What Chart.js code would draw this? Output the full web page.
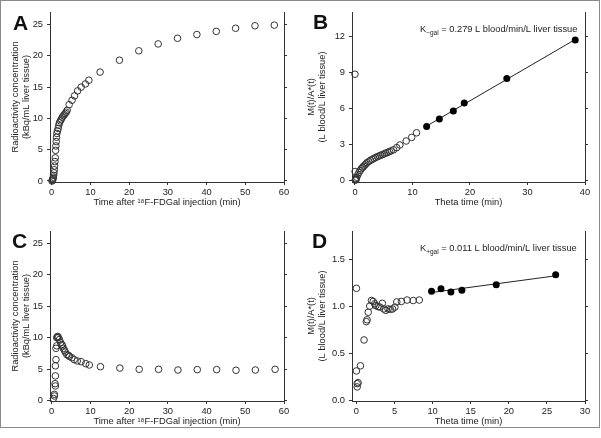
<!DOCTYPE html>
<html>
<head>
<meta charset="utf-8">
<script src="https://cdn.jsdelivr.net/npm/chart.js@4"></script>
<style>
body { margin: 0; background: #fff; }
#fig { position: relative; width: 601px; height: 438px; }
#frame { position: absolute; left: 0; top: 0; width: 598px; height: 426px; border: 1px solid #8a8a8a; }
canvas { position: absolute; }
</style>
</head>
<body>
<div id="fig">
  <div id="frame"></div>
  <canvas id="panelA" width="300" height="214" style="left:0;top:0"></canvas>
  <canvas id="panelB" width="299" height="214" style="left:300px;top:0"></canvas>
  <canvas id="panelC" width="300" height="214" style="left:0;top:219px"></canvas>
  <canvas id="panelD" width="299" height="214" style="left:300px;top:219px"></canvas>
</div>
<script>
"use strict";
// A: liver tissue curve, no galactose
const timeA = [0.08, 0.17, 0.25, 0.33, 0.42, 0.5, 0.58, 0.67, 0.75, 0.83, 0.92, 1.0, 1.08, 1.17, 1.25, 1.33, 1.5, 1.67, 1.83, 2.0, 2.25, 2.5, 2.75, 3.0, 3.25, 3.5, 3.75, 4.0, 4.5, 5.25, 5.9, 6.7, 7.6, 8.7, 9.6, 12.5, 17.5, 22.5, 27.5, 32.5, 37.5, 42.5, 47.5, 52.5, 57.5];
const concA = [0.0, 0.1, 0.2, 0.4, 0.6, 0.9, 1.3, 1.8, 2.4, 3.1, 3.7, 4.9, 5.6, 6.3, 7.0, 7.6, 8.0, 8.4, 8.9, 9.3, 9.6, 9.9, 10.2, 10.4, 10.6, 10.8, 11.0, 11.3, 12.2, 12.9, 13.6, 14.4, 15.0, 15.5, 16.1, 17.4, 19.3, 20.8, 21.9, 22.8, 23.4, 23.9, 24.4, 24.8, 24.9];

// C: liver tissue curve, galactose infusion
const timeC = [0.43, 0.69, 0.69, 0.86, 0.95, 0.95, 0.95, 1.1, 1.1, 1.3, 1.3, 1.46, 1.55, 1.7, 2.0, 2.3, 2.6, 2.8, 3.0, 3.3, 3.5, 3.9, 4.3, 4.6, 5.2, 5.8, 6.6, 7.6, 8.8, 9.7, 12.6, 17.6, 22.6, 27.6, 32.6, 37.6, 42.6, 47.6, 52.6, 57.7];
const concC = [0.3, 0.7, 0.96, 2.66, 2.3, 3.9, 5.5, 6.5, 8.3, 8.7, 10.0, 10.1, 10.2, 10.0, 9.7, 9.2, 8.9, 8.7, 8.3, 8.0, 7.7, 7.3, 7.2, 7.0, 6.8, 6.5, 6.28, 6.17, 5.85, 5.64, 5.37, 5.15, 4.95, 4.95, 4.84, 4.9, 4.9, 4.8, 4.84, 4.95];

// B: Gjedde-Patlak plot, no galactose
const thetaB = [0.0, 0.02, 0.05, 0.1, 0.15, 0.2, 0.3, 0.5, 0.7, 0.9, 1.1, 1.3, 1.5, 1.7, 1.9, 2.1, 2.4, 2.7, 3.0, 3.3, 3.6, 3.9, 4.2, 4.5, 4.8, 5.1, 5.4, 5.7, 6.0, 6.3, 6.7, 7.25, 7.8, 8.9, 9.86, 10.7];
const ratioB = [8.84, 0.77, 0.05, 0.12, 0.2, 0.1, 0.3, 0.5, 0.7, 0.85, 1.0, 1.1, 1.2, 1.3, 1.4, 1.5, 1.6, 1.7, 1.78, 1.85, 1.93, 2.0, 2.06, 2.12, 2.18, 2.24, 2.3, 2.36, 2.42, 2.48, 2.57, 2.75, 2.97, 3.3, 3.6, 3.98];
const thetaFitB = [12.46, 14.67, 17.1, 19.0, 26.4, 38.3];
const ratioFitB = [4.5, 5.13, 5.79, 6.45, 8.48, 11.67];
const kgalB = '0.279';

// D: Gjedde-Patlak plot, galactose infusion
const thetaD = [0, 0, 0.1, 0.1, 0.22, 0.53, 1.0, 1.3, 1.4, 1.55, 1.75, 1.97, 2.2, 2.4, 2.55, 2.85, 3.07, 3.4, 3.6, 3.85, 4.15, 4.45, 4.75, 5.05, 5.3, 5.9, 6.65, 7.45, 8.25];
const ratioD = [1.19, 0.31, 0.175, 0.14, 0.185, 0.365, 0.64, 0.835, 0.855, 0.935, 1.0, 1.06, 1.05, 1.025, 1.005, 0.995, 0.99, 1.03, 0.97, 0.955, 0.97, 0.965, 0.97, 0.99, 1.045, 1.05, 1.065, 1.06, 1.065];
const thetaFitD = [9.86, 11.1, 12.4, 13.84, 18.35, 26.15];
const ratioFitD = [1.158, 1.186, 1.15, 1.17, 1.228, 1.334];
const kgalD = '0.011';

const timeTicks = [0, 10, 20, 30, 40, 50, 60];
const concTicks = [0, 5, 10, 15, 20, 25];
const thetaTicksB = [0, 10, 20, 30, 40];
const ratioTicksB = [0, 3, 6, 9, 12];
const thetaTicksD = [0, 5, 10, 15, 20, 25, 30];
const ratioTicksD = [0, 0.5, 1.0, 1.5];
const ratioLabelsD = ['0.0', '0.5', '1.0', '1.5'];

const FAMILY = '"Liberation Sans", Arial, sans-serif';
const INK = '#222';
const font = { family: FAMILY, size: 9.3 };

const toPoints = (xs, ys) => xs.map((x, i) => ({ x, y: ys[i] }));

// least squares line through the filled points
const fitLine = (xs, ys) => {
    const n = xs.length;
    const mx = xs.reduce((a, b) => a + b, 0) / n;
    const my = ys.reduce((a, b) => a + b, 0) / n;
    let sxy = 0, sxx = 0;
    xs.forEach((x, i) => { sxy += (x - mx) * (ys[i] - my); sxx += (x - mx) * (x - mx); });
    const slope = sxy / sxx;
    const x0 = Math.min(...xs), x1 = Math.max(...xs);
    return [{ x: x0, y: my + slope * (x0 - mx) }, { x: x1, y: my + slope * (x1 - mx) }];
};

const panelText = {
    id: 'panelText',
    afterDraw(chart, args, opts) {
        const ctx = chart.ctx;
        ctx.save();
        ctx.fillStyle = '#111';
        ctx.textBaseline = 'alphabetic';
        ctx.font = 'bold 21px ' + FAMILY;
        ctx.fillText(opts.letter, opts.lx, opts.ly);
        if (opts.value) {
            let x = opts.nx;
            const y = opts.ny;
            ctx.fillStyle = INK;
            ctx.font = '9.3px ' + FAMILY;
            ctx.fillText('K', x, y);
            x += ctx.measureText('K').width;
            ctx.font = '6.5px ' + FAMILY;
            ctx.fillText(opts.sub, x, y + 2.5);
            x += ctx.measureText(opts.sub).width;
            ctx.font = '9.3px ' + FAMILY;
            ctx.fillText(' = ' + opts.value + ' L blood/min/L liver tissue', x, y);
        }
        ctx.restore();
    }
};

const setTicks = (values) => (scale) => { scale.ticks = values.map(v => ({ value: v })); };

const makePanel = (id, p) => {
    const datasets = [{
        data: toPoints(p.xs, p.ys),
        pointRadius: 3.3,
        pointBorderWidth: 1,
        pointBorderColor: '#333',
        pointBackgroundColor: 'rgba(0,0,0,0)',
        clip: false,
    }];
    if (p.fx) {
        datasets.push({
            data: toPoints(p.fx, p.fy),
            pointRadius: 3.5,
            pointBorderWidth: 0,
            pointBackgroundColor: '#000',
            clip: false,
        });
        datasets.push({
            data: fitLine(p.fx, p.fy),
            showLine: true,
            borderColor: '#222',
            borderWidth: 1,
            pointRadius: 0,
        });
    }
    const axisGrid = { drawOnChartArea: false, drawTicks: true, tickLength: 3, color: '#333' };
    const axisBorder = { color: '#333', width: 1 };
    new Chart(document.getElementById(id), {
        type: 'scatter',
        data: { datasets },
        options: {
            responsive: false,
            animation: false,
            layout: { padding: { top: 12, left: 0, right: 0, bottom: 0 } },
            plugins: {
                legend: { display: false },
                tooltip: { enabled: false },
                panelText: p.text,
            },
            scales: {
                x: {
                    type: 'linear', position: 'bottom', min: p.xMin, max: p.xMax,
                    afterBuildTicks: setTicks(p.xTicks),
                    afterFit: (s) => { s.height = 32; },
                    grid: axisGrid, border: axisBorder,
                    ticks: { font, color: INK, padding: 2, maxRotation: 0, autoSkip: false },
                    title: { display: true, text: p.xTitle, font, color: INK, padding: { top: 0, bottom: 6.4 } },
                },
                y: {
                    type: 'linear', position: 'left', min: p.yMin, max: p.yMax,
                    afterBuildTicks: setTicks(p.yTicks),
                    afterFit: (s) => { s.width = p.yWidth; },
                    grid: axisGrid, border: axisBorder,
                    ticks: { font, color: INK, padding: 4, autoSkip: false,
                        callback: (v, i) => p.yLabels ? p.yLabels[i] : String(v) },
                    title: { display: true, text: p.yTitle, font, color: INK, padding: { top: p.yTitlePad, bottom: 0 } },
                },
                y2: {
                    type: 'linear', position: 'right', min: p.yMin, max: p.yMax,
                    afterBuildTicks: setTicks(p.yTicks),
                    afterFit: (s) => { s.width = p.rightWidth; },
                    grid: axisGrid, border: axisBorder,
                    ticks: { display: false },
                },
            },
        },
        plugins: [panelText],
    });
};

const timeTitle = 'Time after \u00B9\u2078F-FDGal injection (min)';
const concTitle = ['Radioactivity concentration', '(kBq/mL liver tissue)'];
const ratioTitle = ['M(t)/A*(t)', '(L blood/L liver tissue)'];

makePanel('panelA', {
    xs: timeA, ys: concA, xMin: -0.44, xMax: 60, yMin: -0.16, yMax: 27,
    xTicks: timeTicks, yTicks: concTicks, xTitle: timeTitle, yTitle: concTitle,
    yWidth: 50, rightWidth: 16, yTitlePad: 9.4,
    text: { letter: 'A', lx: 13, ly: 30 },
});
makePanel('panelB', {
    xs: thetaB, ys: ratioB, fx: thetaFitB, fy: ratioFitB, xMin: -0.52, xMax: 40, yMin: -0.1, yMax: 14,
    xTicks: thetaTicksB, yTicks: ratioTicksB, xTitle: 'Theta time (min)', yTitle: ratioTitle,
    yWidth: 52, rightWidth: 14, yTitlePad: 5.4,
    text: { letter: 'B', lx: 13, ly: 29, nx: 120, ny: 32, sub: '\u2212gal', value: kgalB },
});
makePanel('panelC', {
    xs: timeC, ys: concC, xMin: -0.44, xMax: 60, yMin: -0.1, yMax: 27,
    xTicks: timeTicks, yTicks: concTicks, xTitle: timeTitle, yTitle: concTitle,
    yWidth: 50, rightWidth: 16, yTitlePad: 9.4,
    text: { letter: 'C', lx: 12, ly: 29 },
});
makePanel('panelD', {
    xs: thetaD, ys: ratioD, fx: thetaFitD, fy: ratioFitD, xMin: -0.58, xMax: 30, yMin: -0.01, yMax: 1.8,
    xTicks: thetaTicksD, yTicks: ratioTicksD, yLabels: ratioLabelsD, xTitle: 'Theta time (min)', yTitle: ratioTitle,
    yWidth: 52, rightWidth: 14, yTitlePad: 5.4,
    text: { letter: 'D', lx: 12, ly: 29, nx: 120, ny: 32, sub: '+gal', value: kgalD },
});
</script>
</body>
</html>
